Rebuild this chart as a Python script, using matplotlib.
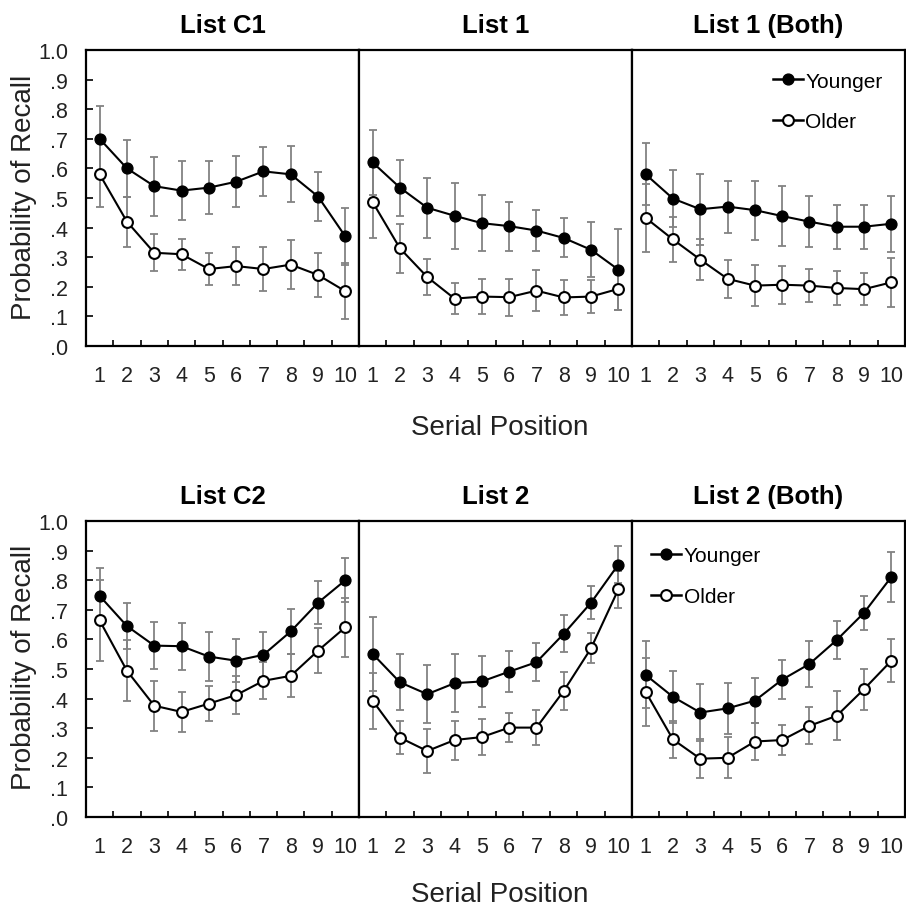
import numpy as np
import matplotlib
matplotlib.use("Agg")
import matplotlib.pyplot as plt
from matplotlib.lines import Line2D

plt.rcParams['font.family'] = ['Liberation Sans', 'DejaVu Sans']

positions = list(range(1, 11))
titles = ["List C1", "List 1", "List 1 (Both)", "List C2", "List 2", "List 2 (Both)"]
ytick_vals = [0.0, 0.1, 0.2, 0.3, 0.4, 0.5, 0.6, 0.7, 0.8, 0.9, 1.0]
ytick_labels = [".0", ".1", ".2", ".3", ".4", ".5", ".6", ".7", ".8", ".9", "1.0"]

c1_young = [0.70, 0.60, 0.54, 0.525, 0.535, 0.555, 0.59, 0.58, 0.505, 0.37]
c1_young_err = [0.11, 0.095, 0.10, 0.10, 0.09, 0.086, 0.082, 0.095, 0.082, 0.095]
c1_old = [0.58, 0.42, 0.315, 0.31, 0.26, 0.27, 0.26, 0.275, 0.24, 0.185]
c1_old_err = [0.11, 0.085, 0.063, 0.053, 0.055, 0.064, 0.073, 0.082, 0.075, 0.094]

l1_young = [0.62, 0.535, 0.467, 0.44, 0.415, 0.405, 0.39, 0.365, 0.325, 0.258]
l1_young_err = [0.109, 0.095, 0.102, 0.112, 0.094, 0.083, 0.068, 0.066, 0.093, 0.138]
l1_old = [0.486, 0.33, 0.233, 0.16, 0.167, 0.165, 0.187, 0.164, 0.167, 0.193]
l1_old_err = [0.12, 0.082, 0.062, 0.052, 0.06, 0.062, 0.07, 0.06, 0.055, 0.073]

b1_young = [0.58, 0.498, 0.462, 0.471, 0.459, 0.439, 0.42, 0.403, 0.403, 0.413]
b1_young_err = [0.105, 0.097, 0.12, 0.088, 0.1, 0.1, 0.086, 0.075, 0.074, 0.095]
b1_old = [0.433, 0.36, 0.292, 0.227, 0.204, 0.207, 0.204, 0.196, 0.192, 0.215]
b1_old_err = [0.115, 0.077, 0.07, 0.065, 0.068, 0.064, 0.055, 0.057, 0.053, 0.082]

c2_young = [0.747, 0.645, 0.579, 0.577, 0.542, 0.528, 0.548, 0.627, 0.724, 0.80]
c2_young_err = [0.095, 0.079, 0.079, 0.08, 0.082, 0.072, 0.076, 0.077, 0.072, 0.075]
c2_old = [0.664, 0.494, 0.376, 0.355, 0.383, 0.412, 0.46, 0.477, 0.562, 0.641]
c2_old_err = [0.137, 0.103, 0.085, 0.068, 0.059, 0.063, 0.062, 0.073, 0.076, 0.10]

l2_young = [0.551, 0.455, 0.415, 0.452, 0.458, 0.491, 0.523, 0.619, 0.724, 0.853]
l2_young_err = [0.124, 0.095, 0.098, 0.098, 0.087, 0.07, 0.064, 0.063, 0.055, 0.063]
l2_old = [0.393, 0.268, 0.223, 0.26, 0.27, 0.302, 0.302, 0.426, 0.57, 0.769]
l2_old_err = [0.095, 0.055, 0.075, 0.066, 0.062, 0.05, 0.059, 0.065, 0.05, 0.062]

b2_young = [0.48, 0.406, 0.353, 0.367, 0.393, 0.464, 0.517, 0.598, 0.69, 0.811]
b2_young_err = [0.113, 0.088, 0.095, 0.086, 0.077, 0.066, 0.079, 0.065, 0.058, 0.085]
b2_old = [0.423, 0.262, 0.197, 0.2, 0.255, 0.26, 0.308, 0.342, 0.432, 0.528]
b2_old_err = [0.115, 0.063, 0.065, 0.069, 0.063, 0.052, 0.062, 0.083, 0.069, 0.072]

panels = [
    (c1_young, c1_young_err, c1_old, c1_old_err),
    (l1_young, l1_young_err, l1_old, l1_old_err),
    (b1_young, b1_young_err, b1_old, b1_old_err),
    (c2_young, c2_young_err, c2_old, c2_old_err),
    (l2_young, l2_young_err, l2_old, l2_old_err),
    (b2_young, b2_young_err, b2_old, b2_old_err),
]

W, H = 906, 912
fig = plt.figure(figsize=(W / 100, H / 100), dpi=100)

x_edges = [86, 359, 632, 905]
row_tops = [51, 522]
ax_h = 296

def px_rect(x0, x1, top):
    return [x0 / W, 1 - (top + ax_h) / H, (x1 - x0) / W, ax_h / H]

axes = []
for r in range(2):
    for c in range(3):
        ax = fig.add_axes(px_rect(x_edges[c], x_edges[c + 1], row_tops[r]))
        axes.append(ax)

tick_color = '#222222'
ms = 7.8
for i, ax in enumerate(axes):
    yv, ye, ov, oe = panels[i]
    ax.errorbar(positions, yv, yerr=ye, fmt='none', ecolor='#828282',
                elinewidth=1.3, capsize=2.6, capthick=1.3, zorder=1)
    ax.errorbar(positions, ov, yerr=oe, fmt='none', ecolor='#828282',
                elinewidth=1.3, capsize=2.6, capthick=1.3, zorder=1)
    ax.plot(positions, yv, color='black', lw=1.5, marker='o', ms=ms,
            mfc='black', mec='black', zorder=3, label='Younger')
    ax.plot(positions, ov, color='black', lw=1.5, marker='o', ms=ms,
            mfc='white', mec='black', mew=1.5, zorder=4, label='Older')
    ax.set_xlim(0.5, 10.5)
    ax.set_ylim(0, 1.0)
    ax.set_xticks(positions)
    ax.set_xticklabels([str(p) for p in positions], fontsize=15.5, color=tick_color)
    ax.set_xticks([p + 0.5 for p in positions[:-1]], minor=True)
    ax.tick_params(axis='x', which='major', length=0, pad=14)
    ax.tick_params(axis='x', which='minor', direction='in', length=4, width=1.2)
    if i % 3 == 0:
        ax.set_yticks(ytick_vals)
        ax.set_yticklabels(ytick_labels, fontsize=15.5, color=tick_color)
        ax.tick_params(axis='y', direction='in', length=5, width=1.2, pad=13)
    else:
        ax.set_yticks([])
    for sp in ax.spines.values():
        sp.set_linewidth(1.6)
    ax.set_title(titles[i], fontsize=18.5, fontweight='bold', pad=13)

handles = [
    Line2D([], [], color='black', lw=1.8, marker='o', ms=ms, mfc='black', mec='black'),
    Line2D([], [], color='black', lw=1.8, marker='o', ms=ms, mfc='white', mec='black', mew=1.5),
]
for ax, anchor in [(axes[2], (0.515, 0.927)), (axes[5], (0.07, 0.914))]:
    ax.legend(handles, ['Younger', 'Older'], loc='upper left', bbox_to_anchor=anchor,
              frameon=False, fontsize=15, handlelength=1.45, handletextpad=0.12,
              labelspacing=1.05, borderpad=0, borderaxespad=0, numpoints=1)

for yc in [428, 895]:
    fig.text(500 / W, 1 - yc / H, "Serial Position", fontsize=20, ha='center', va='center',
             color=tick_color)
for yc in [197, 667]:
    fig.text(24 / W, 1 - yc / H, "Probability of Recall", fontsize=20, ha='center', va='center',
             rotation=90, color=tick_color)

fig.savefig("out.png", dpi=100)
